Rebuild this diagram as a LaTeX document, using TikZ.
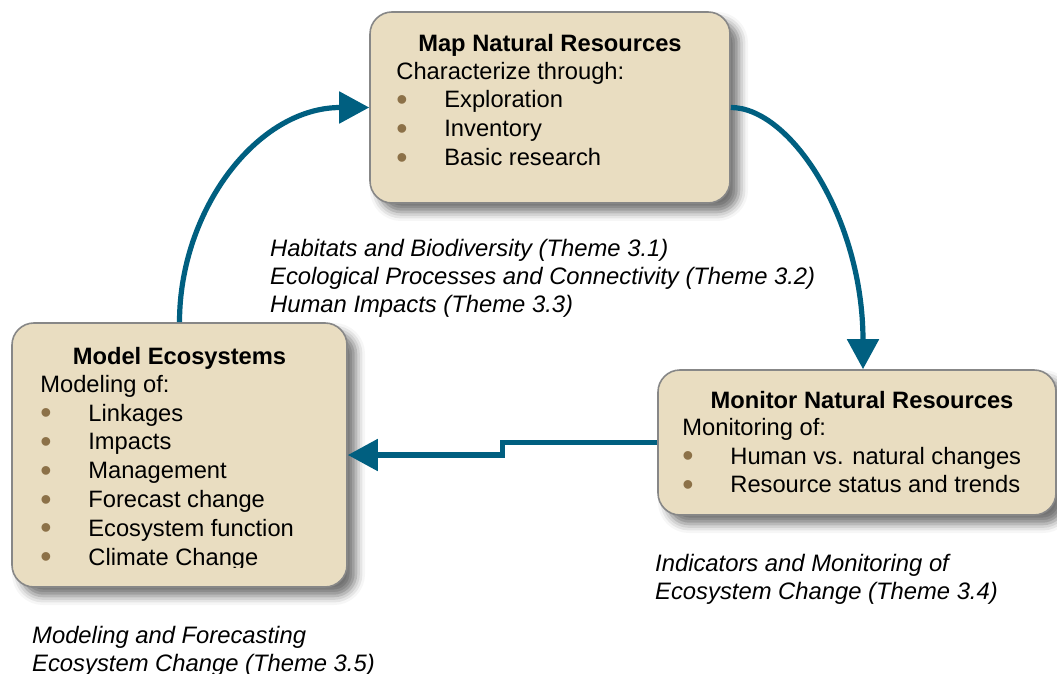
\documentclass[tikz,border=0pt]{standalone}
\usepackage{fontspec}
\setmainfont{Liberation Sans}
\usepackage{tikz}
\usetikzlibrary{arrows.meta}
\usetikzlibrary{shadows.blur}
\definecolor{boxfill}{RGB}{233,221,193}
\definecolor{boxline}{RGB}{135,135,135}
\definecolor{flowteal}{RGB}{0,95,128}
\definecolor{dotbrown}{RGB}{140,113,72}
\newcommand{\bodysize}{\fontsize{23.7}{28.8}\selectfont}
\newcommand{\bul}[1]{\makebox[48pt][l]{\smash{\raisebox{-2.6pt}{\scalebox{1.35}{\textcolor{dotbrown}{\textbullet}}}}}#1}
\tikzstyle{stage} = [draw=boxline, line width=1.6pt, fill=boxfill, rectangle,
    rounded corners=22pt, inner sep=0pt,
    blur shadow={shadow xshift=9pt, shadow yshift=-9pt, shadow blur radius=9pt, shadow opacity=55}]
\tikzstyle{heading} = [inner sep=0pt, anchor=base, font=\bodysize\bfseries]
\tikzstyle{items} = [inner sep=0pt, anchor=base west, font=\bodysize]
\tikzstyle{theme} = [inner sep=0pt, anchor=base west, font=\fontsize{23.8}{28}\selectfont\itshape]
\tikzstyle{flow} = [draw=flowteal, line width=5.2pt, -{Triangle[length=30pt,width=31pt]}]
\begin{document}
\begin{tikzpicture}[x=1pt, y=1pt]
    \useasboundingbox (0,0) rectangle (1057,673);
    % We start by placing the three boxes
    \node [stage, minimum width=360pt, minimum height=191pt] (mapbox) at (550,565.5) {};
    \node [stage, minimum width=335pt, minimum height=264pt] (modelbox) at (179.5,218) {};
    \node [stage, minimum width=398pt, minimum height=145pt] (monitorbox) at (857,230.5) {};

    % Headings and lists are set against the box corners
    \node [heading] (maptitle) at ([yshift=-40pt]mapbox.north) {Map Natural Resources};
    \node [items] (maplist) at ([xshift=27pt, yshift=-68pt]mapbox.north west)
        {\begin{tabular}[t]{@{}l@{}}Characterize through:\\ \bul{Exploration}\\
         \bul{Inventory}\\ \bul{Basic research}\end{tabular}};
    \node [heading] (monitortitle) at ([xshift=5pt, yshift=-39pt]monitorbox.north) {Monitor Natural Resources};
    \node [items] (monitorlist) at ([xshift=25pt, yshift=-66pt]monitorbox.north west)
        {\begin{tabular}[t]{@{}l@{}}Monitoring of:\\ \bul{Human vs. natural changes}\\
         \bul{Resource status and trends}\end{tabular}};
    \node [heading] (modeltitle) at ([yshift=-42pt]modelbox.north) {Model Ecosystems};
    \begin{scope}
        % the last line is cut off just below its baseline
        \clip (0,105.5) rectangle (400,673);
        \node [items] (modellist) at ([xshift=29pt, yshift=-70pt]modelbox.north west)
            {\begin{tabular}[t]{@{}l@{}}Modeling of:\\ \bul{Linkages}\\ \bul{Impacts}\\
             \bul{Management}\\ \bul{Forecast change}\\ \bul{Ecosystem function}\\
             \bul{Climate Change}\end{tabular}};
    \end{scope}

    % Theme captions
    \node [theme] (thememap) at (270,416)
        {\begin{tabular}[t]{@{}l@{}}Habitats and Biodiversity (Theme 3.1)\\
         Ecological Processes and Connectivity (Theme 3.2)\\
         Human Impacts (Theme 3.3)\end{tabular}};
    \node [theme] (thememonitor) at (655,102)
        {\begin{tabular}[t]{@{}l@{}}Indicators and Monitoring of\\
         Ecosystem Change (Theme 3.4)\end{tabular}};
    \node [theme] (thememodel) at (32,30)
        {\begin{tabular}[t]{@{}l@{}}Modeling and Forecasting\\
         Ecosystem Change (Theme 3.5)\end{tabular}};

    % Once the boxes are placed, the cycle is closed by three arrows
    \draw [flow] (modelbox.north) to [out=90, in=180] (mapbox.west);
    \draw [flow] (mapbox.east) .. controls +(60,0) and +(0,150) .. ([xshift=6pt]monitorbox.north);
    \draw [flow] (monitorbox.west) -- ++(-155,0) |- (modelbox.east);
\end{tikzpicture}
\end{document}
